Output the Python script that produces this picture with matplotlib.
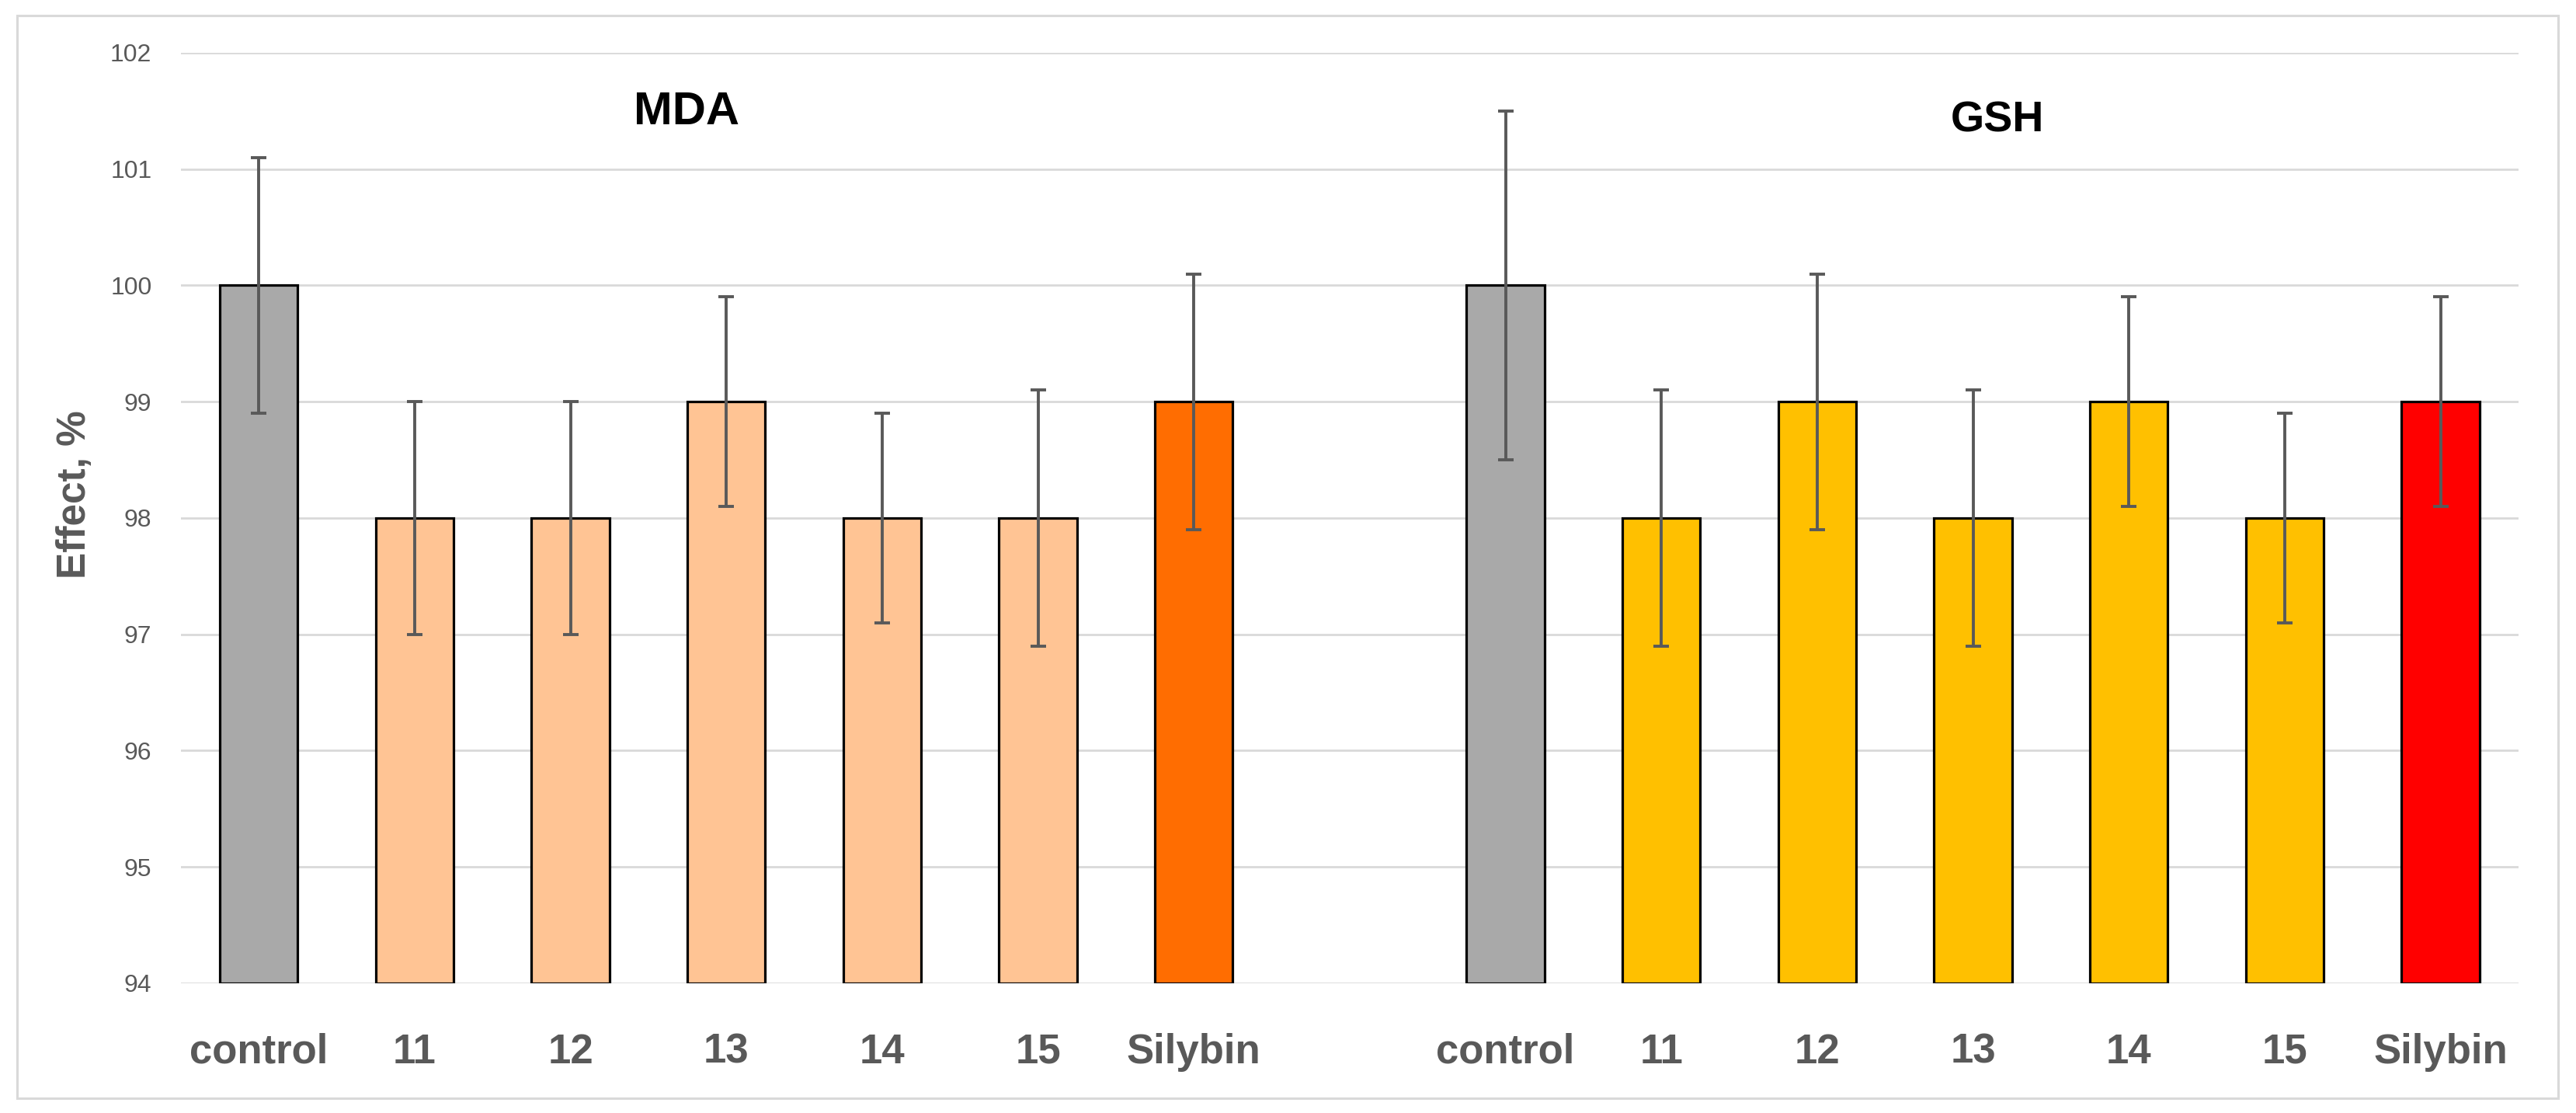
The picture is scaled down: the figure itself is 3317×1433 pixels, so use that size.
import numpy as np
import matplotlib
matplotlib.use("Agg")
import matplotlib.pyplot as plt
from matplotlib.patches import Rectangle

# data
labels = ["control", "11", "12", "13", "14", "15", "Silybin"]
mda_values = [100, 98, 98, 99, 98, 98, 99]
mda_errors = [1.1, 1.0, 1.0, 0.9, 0.9, 1.1, 1.1]
gsh_values = [100, 98, 99, 98, 99, 98, 99]
gsh_errors = [1.5, 1.1, 1.1, 1.1, 0.9, 0.9, 0.9]
mda_colors = ["#A9A9A9", "#FFC494", "#FFC494", "#FFC494", "#FFC494", "#FFC494", "#FF6D01"]
gsh_colors = ["#A9A9A9", "#FFC000", "#FFC000", "#FFC000", "#FFC000", "#FFC000", "#FF0000"]
y_ticks = [94, 95, 96, 97, 98, 99, 100, 101, 102]

grey = "#595959"
grid_col = "#D9D9D9"

fig = plt.figure(figsize=(33.17, 14.33), dpi=100)
ax = fig.add_axes([0.07024, 0.11654, 0.90745, 0.83601])

# outer chart border
fig.patches.append(Rectangle((22 / 3317, 1 - 1414 / 1433), (3294 - 22) / 3317, (1414 - 20) / 1433,
                             transform=fig.transFigure, fill=False, edgecolor=grid_col, linewidth=2.2))

x_mda = np.arange(len(labels))
x_gsh = np.arange(len(labels)) + len(labels) + 1

err_kw = dict(ecolor=grey, elinewidth=2.8, capsize=7, capthick=2.8)
ax.bar(x_mda, np.array(mda_values) - 94, bottom=94, width=0.5, color=mda_colors,
       edgecolor="black", linewidth=2.3, yerr=mda_errors, error_kw=err_kw, zorder=3)
ax.bar(x_gsh, np.array(gsh_values) - 94, bottom=94, width=0.5, color=gsh_colors,
       edgecolor="black", linewidth=2.3, yerr=gsh_errors, error_kw=err_kw, zorder=3)

ax.set_xlim(-0.5, 14.5)
ax.set_ylim(94, 102)
ax.set_yticks(y_ticks)
ax.set_yticklabels([str(t) for t in y_ticks], fontsize=23, color=grey, family="Liberation Sans")
ax.set_xticks(np.concatenate([x_mda, x_gsh]))
ax.set_xticklabels(labels + labels, fontsize=38, fontweight="bold", color=grey, family="Liberation Sans")
ax.tick_params(axis="both", length=0)
ax.tick_params(axis="y", pad=27)
ax.tick_params(axis="x", pad=46)

ax.grid(axis="y", color=grid_col, linewidth=2.0, zorder=0)
ax.set_axisbelow(True)
for s in ax.spines.values():
    s.set_visible(False)

ax.text(2.744, 101.387, "MDA", ha="center", va="baseline", fontsize=43,
        fontweight="bold", color="black", family="Liberation Sans")
ax.text(11.156, 101.32, "GSH", ha="center", va="baseline", fontsize=40,
        fontweight="bold", color="black", family="Liberation Sans")

fig.text(97 / 3317, 1 - 637 / 1433, "Effect, %", rotation=90, ha="center", va="center",
         fontsize=37, fontweight="bold", color=grey, family="Liberation Sans")

plt.savefig("out.png", dpi=100)
